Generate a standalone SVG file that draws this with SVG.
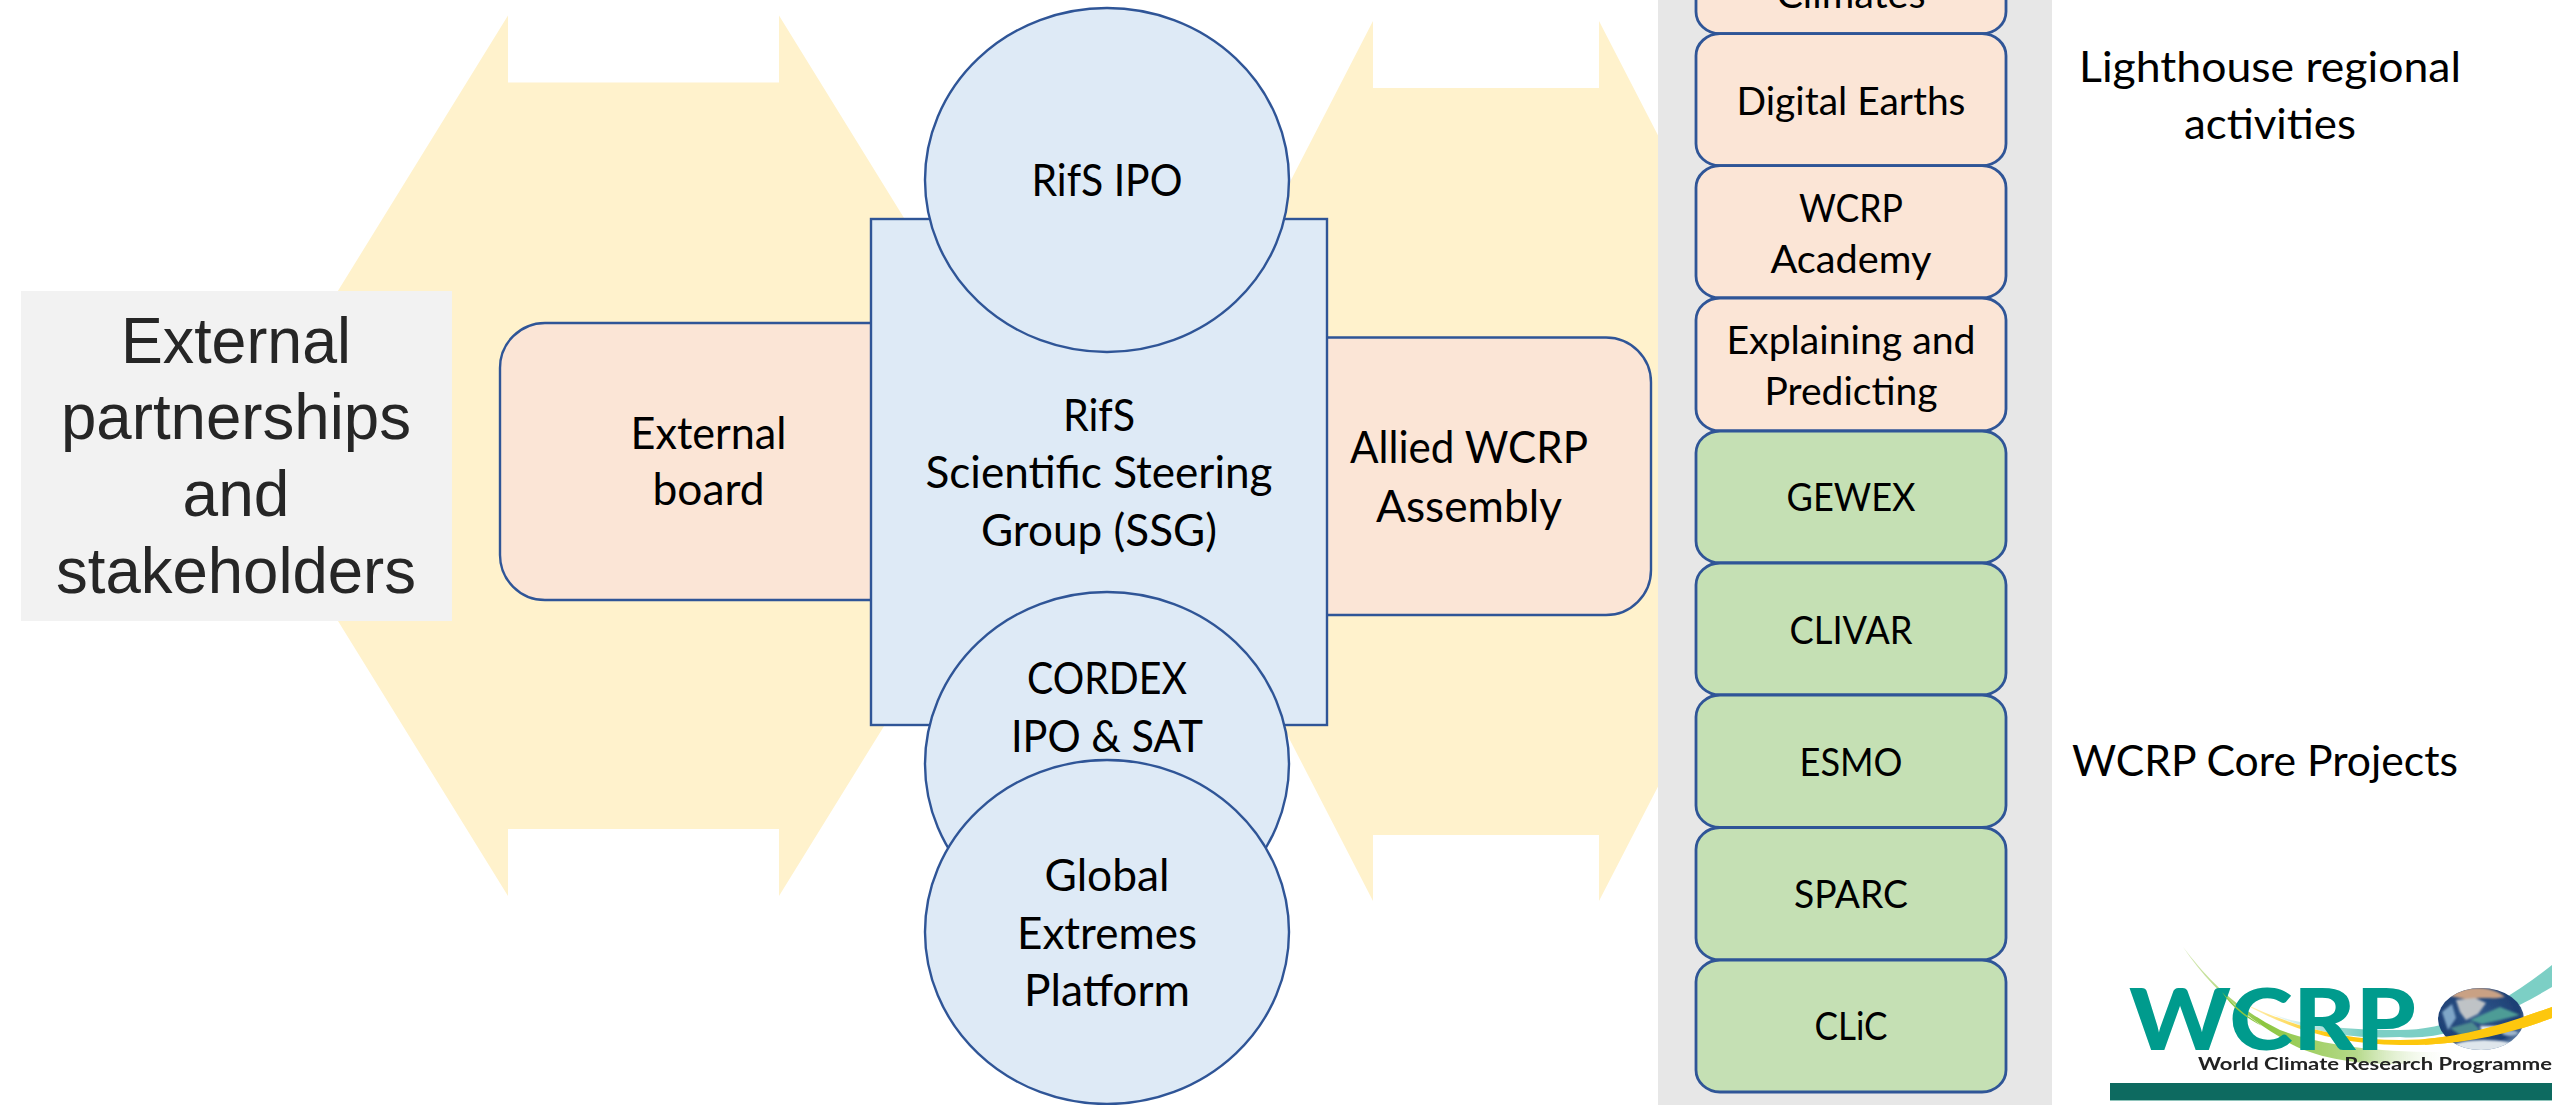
<svg xmlns="http://www.w3.org/2000/svg" width="2552" height="1105" viewBox="0 0 2552 1105">
<style>
.arrow{fill:#fff2cc}
.peach{fill:#fbe5d6;stroke:#2f5597;stroke-width:2.4}
.blue{fill:#deeaf6;stroke:#2f5597;stroke-width:2.4}
.cp{stroke:#2f5597;stroke-width:2.8}
.g{fill:#c5e0b4}.o{fill:#fbe5d6}
text{font-family:"Lato","Noto Sans",sans-serif;fill:#000;text-anchor:middle}
.m{font-size:44px}
.s{font-size:38px}
.l{font-size:42px}
.big{font-family:"Liberation Sans",Arial,sans-serif;font-size:64px;fill:#262626}
</style>
<defs>
<linearGradient id="gfade" x1="2183" y1="0" x2="2450" y2="0" gradientUnits="userSpaceOnUse">
<stop offset="0" stop-color="#dcebc0"/><stop offset=".3" stop-color="#8cc63f"/><stop offset=".65" stop-color="#b5d98a"/><stop offset="1" stop-color="#fff" stop-opacity=".1"/>
</linearGradient>
<linearGradient id="tfade" x1="2263" y1="0" x2="2360" y2="0" gradientUnits="userSpaceOnUse">
<stop offset="0" stop-color="#fff"/><stop offset="1" stop-color="#7ccfc5"/>
</linearGradient>
<linearGradient id="yfade" x1="2243" y1="0" x2="2330" y2="0" gradientUnits="userSpaceOnUse">
<stop offset="0" stop-color="#fff3c4"/><stop offset="1" stop-color="#fdc70c"/>
</linearGradient>
<radialGradient id="earth" cx=".45" cy=".42" r=".62">
<stop offset="0" stop-color="#31598c"/><stop offset=".8" stop-color="#1d3f74"/><stop offset="1" stop-color="#6e8cb0"/>
</radialGradient>
<clipPath id="earthclip"><ellipse cx="2481" cy="1019" rx="43" ry="31"/></clipPath>
<clipPath id="overearth"><rect x="2425" y="950" width="127" height="110"/></clipPath>
<filter id="soft" x="-5%" y="-5%" width="110%" height="110%"><feGaussianBlur stdDeviation="0.5"/></filter>
<filter id="softer" x="-20%" y="-20%" width="140%" height="140%"><feGaussianBlur stdDeviation="0.9"/></filter>
<path id="yellow" d="M2243,1003 C2290,1025 2340,1040 2400,1040 C2460,1040 2510,1022 2552,1007 L2552,1018 C2510,1034 2460,1046 2400,1045 C2340,1044 2290,1030 2243,1003Z" fill="url(#yfade)"/>
</defs>
<g id="connectors">
<polygon class="arrow" points="236,456 508,15.5 508,82.5 779,82.5 779,15.5 1051,456 779,896 779,829 508,829 508,896"/>
<polygon class="arrow" points="1146,461 1373,21 1373,88 1599,88 1599,21 1826,461 1599,901 1599,835 1373,835 1373,901"/>
</g>
<g id="partners">
<rect x="21" y="291" width="431" height="330" fill="#f2f2f2"/>
<text class="big" x="236" y="363" textLength="230" lengthAdjust="spacingAndGlyphs">External</text>
<text class="big" x="236" y="439" textLength="350" lengthAdjust="spacingAndGlyphs">partnerships</text>
<text class="big" x="236" y="516">and</text>
<text class="big" x="236" y="593" textLength="360" lengthAdjust="spacingAndGlyphs">stakeholders</text>
</g>
<g id="external-board">
<rect class="peach" x="500" y="323" width="420" height="277" rx="45" ry="45"/>
<text class="m" x="708.5" y="449" textLength="156" lengthAdjust="spacingAndGlyphs">External</text>
<text class="m" x="708.5" y="505" textLength="112" lengthAdjust="spacingAndGlyphs">board</text>
</g>
<g id="allied-assembly">
<rect class="peach" x="1280" y="337.500" width="371" height="277.500" rx="45" ry="45"/>
</g>
<g id="ssg">
<rect class="blue" x="871" y="219" width="456" height="506"/>
<text class="m" x="1099" y="431" textLength="72" lengthAdjust="spacingAndGlyphs">RifS</text>
<text class="m" x="1099" y="488" textLength="347" lengthAdjust="spacingAndGlyphs">Scientific Steering</text>
<text class="m" x="1099" y="546" textLength="236" lengthAdjust="spacingAndGlyphs">Group (SSG)</text>
</g>
<g id="allied-label">
<text class="m" x="1469" y="463" textLength="238" lengthAdjust="spacingAndGlyphs">Allied WCRP</text>
<text class="m" x="1469" y="522" textLength="186" lengthAdjust="spacingAndGlyphs">Assembly</text>
</g>
<g id="rifs-ipo">
<ellipse class="blue" cx="1107" cy="180" rx="182" ry="172"/>
<text class="m" x="1107" y="196" textLength="151" lengthAdjust="spacingAndGlyphs">RifS IPO</text>
</g>
<g id="cordex">
<ellipse class="blue" cx="1107" cy="764" rx="182" ry="172"/>
<text class="m" x="1107" y="694" textLength="160" lengthAdjust="spacingAndGlyphs">CORDEX</text>
<text class="m" x="1107" y="752" textLength="192" lengthAdjust="spacingAndGlyphs">IPO &amp; SAT</text>
</g>
<g id="gep">
<ellipse class="blue" cx="1107" cy="932" rx="182" ry="172"/>
<text class="m" x="1107" y="891" textLength="125" lengthAdjust="spacingAndGlyphs">Global</text>
<text class="m" x="1107" y="949" textLength="180" lengthAdjust="spacingAndGlyphs">Extremes</text>
<text class="m" x="1107" y="1006" textLength="166" lengthAdjust="spacingAndGlyphs">Platform</text>
</g>
<g id="column">
<rect x="1658" y="0" width="394" height="1105" fill="#e7e7e7"/>
</g>
<g id="climates">
<rect class="cp o" x="1696" y="-98.700" width="310" height="132.400" rx="24" ry="22"/>
<text class="s" x="1851" y="8" textLength="149" lengthAdjust="spacingAndGlyphs">Climates</text>
</g>
<g id="digital-earths">
<rect class="cp o" x="1696" y="33.700" width="310" height="132" rx="24" ry="22"/>
<text class="s" x="1851" y="115" textLength="229" lengthAdjust="spacingAndGlyphs">Digital Earths</text>
</g>
<g id="academy">
<rect class="cp o" x="1696" y="165.700" width="310" height="132.300" rx="24" ry="22"/>
<text class="s" x="1851" y="222" textLength="104" lengthAdjust="spacingAndGlyphs">WCRP</text>
<text class="s" x="1851" y="273" textLength="161" lengthAdjust="spacingAndGlyphs">Academy</text>
</g>
<g id="explaining">
<rect class="cp o" x="1696" y="298" width="310" height="133" rx="24" ry="22"/>
<text class="s" x="1851" y="354" textLength="249" lengthAdjust="spacingAndGlyphs">Explaining and</text>
<text class="s" x="1851" y="405" textLength="173" lengthAdjust="spacingAndGlyphs">Predicting</text>
</g>
<g id="gewex">
<rect class="cp g" x="1696" y="431" width="310" height="132" rx="24" ry="22"/>
<text class="s" x="1851" y="511" textLength="129" lengthAdjust="spacingAndGlyphs">GEWEX</text>
</g>
<g id="clivar">
<rect class="cp g" x="1696" y="563" width="310" height="132" rx="24" ry="22"/>
<text class="s" x="1851" y="643.500" textLength="123" lengthAdjust="spacingAndGlyphs">CLIVAR</text>
</g>
<g id="esmo">
<rect class="cp g" x="1696" y="695" width="310" height="132.500" rx="24" ry="22"/>
<text class="s" x="1851" y="776" textLength="103" lengthAdjust="spacingAndGlyphs">ESMO</text>
</g>
<g id="sparc">
<rect class="cp g" x="1696" y="827.500" width="310" height="132.500" rx="24" ry="22"/>
<text class="s" x="1851" y="908" textLength="114" lengthAdjust="spacingAndGlyphs">SPARC</text>
</g>
<g id="clic">
<rect class="cp g" x="1696" y="960" width="310" height="132" rx="24" ry="22"/>
<text class="s" x="1851" y="1040" textLength="73" lengthAdjust="spacingAndGlyphs">CLiC</text>
</g>
<g id="labels">
<text class="l" x="2270" y="82" textLength="382" lengthAdjust="spacingAndGlyphs">Lighthouse regional</text>
<text class="l" x="2270" y="139" textLength="172" lengthAdjust="spacingAndGlyphs">activities</text>
<text class="l" x="2265" y="776" textLength="386" lengthAdjust="spacingAndGlyphs">WCRP Core Projects</text>
</g>
<g id="logo" filter="url(#soft)">
<rect x="2110" y="1083" width="442" height="17" fill="#0f6b60"/>
<rect x="2110" y="1100" width="442" height="1" fill="#8fc4bb"/>
<path d="M2183,947 C2205,975 2230,1005 2280,1030 C2320,1045 2380,1053 2450,1052 L2450,1058 C2380,1072 2310,1060 2280,1037 C2235,1010 2205,980 2183,947Z" fill="url(#gfade)"/>
<path d="M2263,1010 C2300,1028 2360,1030 2400,1030 C2440,1030 2490,1015 2552,965 L2552,987 C2510,1012 2450,1042 2400,1037 C2340,1040 2300,1028 2263,1010Z" fill="url(#tfade)"/>
<use href="#yellow"/>
<text x="2272.500" y="1050" font-size="86" font-weight="900" textLength="287" lengthAdjust="spacingAndGlyphs" style="fill:#009b8d">WCRP</text>
<path d="M2222,992 C2232,1003 2240,1011 2252,1019 L2262,1026 C2244,1017 2230,1005 2222,992Z" fill="#8cc63f"/>
<ellipse cx="2481" cy="1019" rx="43" ry="31" fill="url(#earth)"/>
<g clip-path="url(#earthclip)" filter="url(#softer)">
<path d="M2450,996 C2465,985 2490,985 2505,997 C2490,1000 2485,996 2470,1000 Z" fill="#c9a184"/>
<path d="M2456,1000 L2475,998 L2486,1003 L2478,1014 L2466,1020 L2460,1012 Z" fill="#bfc3c6"/>
<path d="M2470,1020 L2500,1007 L2520,1015 L2500,1020 L2482,1024 Z" fill="#4d9c96"/>
<path d="M2442,1012 L2452,1004 L2456,1018 L2448,1030 Z" fill="#7fa6c8"/>
<path d="M2450,1028 L2472,1022 L2480,1030 L2462,1036 Z" fill="#4e8c90"/>
<path d="M2480,1026 L2500,1026 L2495,1032 L2482,1032 Z" fill="#e6ebef"/>
<ellipse cx="2484" cy="1046" rx="30" ry="6" fill="#dfe6ec"/>
<ellipse cx="2510" cy="1033" rx="8" ry="3" fill="#9fb6cc"/>
</g>
<use href="#yellow" clip-path="url(#overearth)"/>
<text x="2375" y="1070" font-size="16.500" font-weight="700" textLength="354" lengthAdjust="spacingAndGlyphs" style="fill:#222">World Climate Research Programme</text>
</g>
</svg>
